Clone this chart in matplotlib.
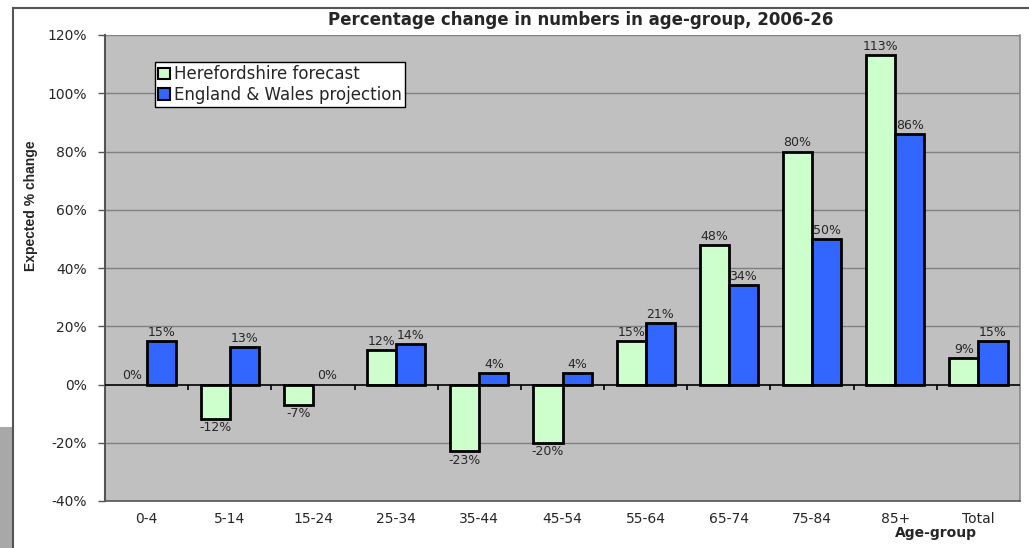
import matplotlib
matplotlib.use("Agg")
import matplotlib.pyplot as plt
from matplotlib.patches import Rectangle
from matplotlib.lines import Line2D
import numpy as np

plt.rcParams['font.family'] = ['DejaVu Sans']

# Age groups and percentage change 2006-26
age_groups = ["0-4", "5-14", "15-24", "25-34", "35-44", "45-54",
              "55-64", "65-74", "75-84", "85+", "Total"]
herefordshire = [0, -12, -7, 12, -23, -20, 15, 48, 80, 113, 9]
england_wales = [15, 13, 0, 14, 4, 4, 21, 34, 50, 86, 15]
y_ticks = [-40, -20, 0, 20, 40, 60, 80, 100, 120]

green = "#CCFFCC"
blue = "#3366FF"
txt = "#262626"

fig = plt.figure(figsize=(10.29, 5.48), dpi=100)
fig.patch.set_facecolor("white")

W, H = 1029, 548
ax = fig.add_axes([105 / W, (H - 501) / H, (1020 - 105) / W, (501 - 35) / H])
ax.set_facecolor("#C0C0C0")

x = np.arange(len(age_groups))
bw = 0.35
ax.set_xlim(-0.5, len(age_groups) - 0.5)
ax.set_ylim(-40, 120)

for v in y_ticks:
    if v not in (-40, 0):
        ax.axhline(v, color="#808080", lw=1.0, zorder=1)

ax.bar(x - bw / 2, herefordshire, bw, color=green, edgecolor="black",
       linewidth=[2 if v else 0 for v in herefordshire], zorder=3,
       label="Herefordshire forecast")
ax.bar(x + bw / 2, england_wales, bw, color=blue, edgecolor="black",
       linewidth=[2 if v else 0 for v in england_wales], zorder=3,
       label="England & Wales projection")

ax.axhline(0, color="black", lw=1.2, zorder=4)
# category boundary ticks on the zero line
ax.vlines(x[:-1] + 0.5, -2, 0, color="black", lw=1.2, zorder=4)

# value labels
def label(xs, vals):
    for xi, v in zip(xs, vals):
        if v >= 0:
            ax.text(xi, v + 0.7, f"{v}%", ha="center", va="bottom",
                    fontsize=9, color=txt, zorder=5)
        else:
            ax.text(xi, v - 0.7, f"{v}%", ha="center", va="top",
                    fontsize=9, color=txt, zorder=5)

label(x - bw / 2, herefordshire)
label(x + bw / 2, england_wales)

ax.set_yticks(y_ticks)
ax.set_yticklabels([f"{v}%" for v in y_ticks], fontsize=10, color=txt)
ax.set_xticks(x)
ax.set_xticklabels(age_groups, fontsize=10, color=txt)
ax.tick_params(axis="x", length=0, pad=8)
ax.tick_params(axis="y", length=5, width=1, color="#555555", pad=8)

ax.spines["top"].set_visible(False)
ax.spines["left"].set_color("#555555")
ax.spines["left"].set_linewidth(1.5)
ax.spines["bottom"].set_color("#555555")
ax.spines["bottom"].set_linewidth(1.2)
ax.spines["right"].set_color("#888888")
ax.spines["right"].set_linewidth(1.2)

ax.set_ylabel("Expected % change", fontsize=10, fontweight="bold",
              color=txt, family="Liberation Sans")
ax.yaxis.set_label_coords(-67 / 915, (501 - 206) / 466)

fig.text(581 / W, 1 - 20 / H, "Percentage change in numbers in age-group, 2006-26",
         ha="center", va="center", fontsize=12, fontweight="bold", color=txt)
fig.text(936 / W, 1 - 533 / H, "Age-group", ha="center", va="center",
         fontsize=10, fontweight="bold", color=txt)

leg = ax.legend(loc="upper left", bbox_to_anchor=(50 / 915, 1 - 27 / 466),
                fontsize=12, frameon=True, fancybox=False, borderpad=0.2,
                handlelength=0.7, handleheight=0.7, handletextpad=0.25,
                labelspacing=0.15, borderaxespad=0)
leg.get_frame().set_edgecolor("black")
leg.get_frame().set_linewidth(1.0)
leg.get_frame().set_facecolor("white")
leg.get_frame().set_alpha(1)
for t in leg.get_texts():
    t.set_color(txt)
for h in leg.legend_handles:
    h.set_linewidth(1.5)

# outer frame and scanned edge strip
fig.add_artist(Line2D([13 / W, 1.0], [1 - 8 / H, 1 - 8 / H],
                      color="#555555", lw=1.5, transform=fig.transFigure))
fig.add_artist(Line2D([13 / W, 13 / W], [0, 1 - 8 / H],
                      color="#555555", lw=1.5, transform=fig.transFigure))
fig.add_artist(Rectangle((0, 0), 12 / W, (H - 427) / H, facecolor="#A8A8A8",
                         edgecolor="none", transform=fig.transFigure))

fig.savefig("out.png", dpi=100)
